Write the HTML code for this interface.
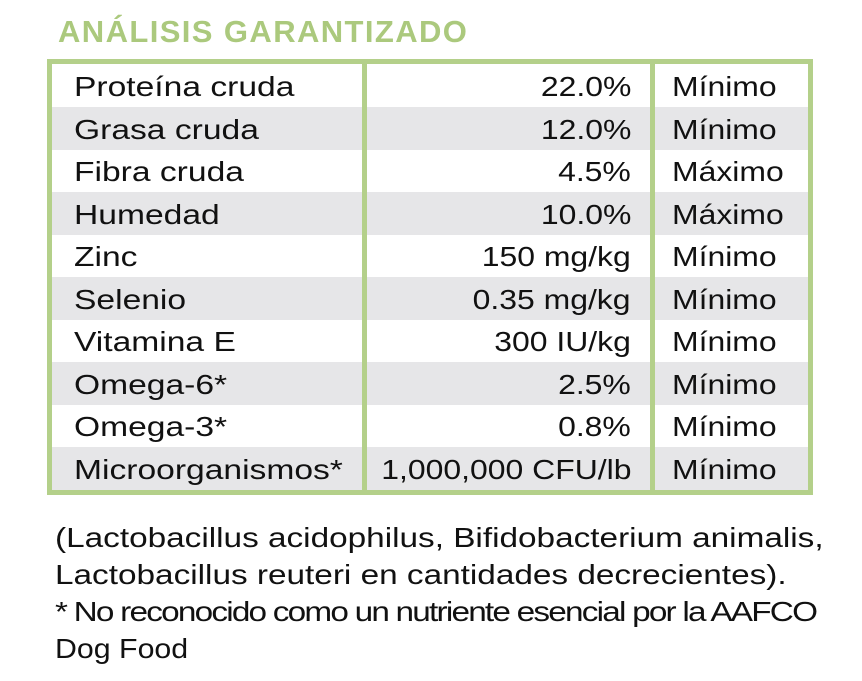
<!DOCTYPE html>
<html><head><meta charset="utf-8"><style>
body{margin:0;width:862px;height:681px;background:#fff;font-family:"Liberation Sans",sans-serif;position:relative;overflow:hidden}
.title{position:absolute;left:58px;top:14px;font-size:31px;font-weight:bold;color:#abc97d;letter-spacing:1.4px}
.box{position:absolute;left:47px;top:59px;width:756px;height:426px;border:5px solid #b4d08a}
.row{position:absolute;left:0;width:756px;height:43px;font-size:28px;color:#111}
.row.g{background:#e6e6e8}
.row span{position:absolute;top:7px;white-space:nowrap}
.c1{left:22px;transform:scaleX(1.2);transform-origin:left}
.c2{right:177px;text-align:right;transform:scaleX(1.14);transform-origin:right}
.c3{left:620px;transform:scaleX(1.14);transform-origin:left}
.vl{position:absolute;top:0;width:5px;height:426px;background:#b4d08a}
.foot{position:absolute;left:55px;top:519px;font-size:28px;line-height:37px;color:#111;transform:scaleX(1.19);transform-origin:left;white-space:nowrap}
</style></head><body>
<div class="title">ANÁLISIS GARANTIZADO</div>
<div class="box" id="tbl"></div>
<div class="foot">(Lactobacillus acidophilus, Bifidobacterium animalis,<br>Lactobacillus reuteri en cantidades decrecientes).<br><span style="letter-spacing:-1.5px">* No reconocido como un nutriente esencial por la AAFCO</span><br><span style="display:inline-block;transform:scaleX(0.91);transform-origin:left">Dog Food</span></div>
<script>
const nutrients=["Proteína cruda","Grasa cruda","Fibra cruda","Humedad","Zinc","Selenio","Vitamina E","Omega-6*","Omega-3*","Microorganismos*"];
const amounts=["22.0%","12.0%","4.5%","10.0%","150 mg/kg","0.35 mg/kg","300 IU/kg","2.5%","0.8%","1,000,000 CFU/lb"];
const kinds=["Mínimo","Mínimo","Máximo","Máximo","Mínimo","Mínimo","Mínimo","Mínimo","Mínimo","Mínimo"];
const tbl=document.getElementById('tbl');
nutrients.forEach((n,i)=>{
 const r=document.createElement('div');
 r.className='row'+(i%2?' g':'');
 r.style.top=(i*42.5)+'px';
 
 
 r.innerHTML='<span class="c1">'+n+'</span><span class="c2">'+amounts[i]+'</span><span class="c3">'+kinds[i]+'</span>';
 tbl.appendChild(r);
});
[310,598].forEach(x=>{
 const v=document.createElement('div');
 v.className='vl';v.style.left=x+'px';
 
 
 tbl.appendChild(v);
});
</script>
</body></html>
